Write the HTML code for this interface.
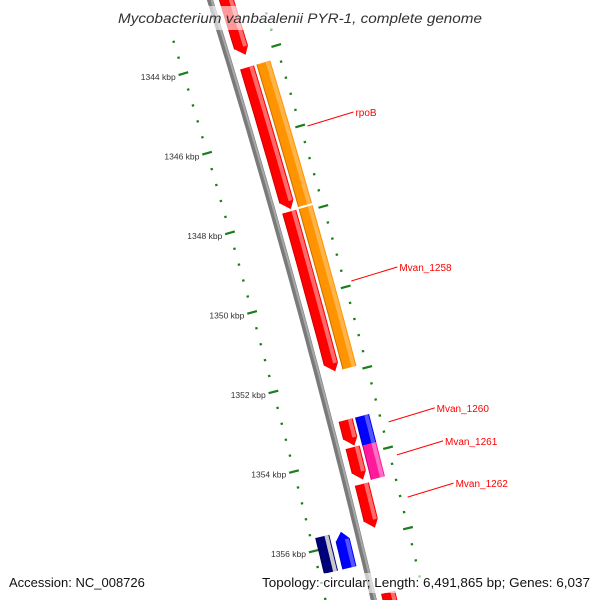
<!DOCTYPE html>
<html><head><meta charset="utf-8"><style>
html,body{margin:0;padding:0;background:#fff;overflow:hidden;}
svg{display:block;font-family:"Liberation Sans","DejaVu Sans",sans-serif;}
</style></head><body>
<svg id="map" width="600" height="600" viewBox="0 0 600 600" xmlns="http://www.w3.org/2000/svg">
<g id="back"></g>
<g id="ticks"></g>
<g id="feats"></g>
<g id="labels"></g>
<rect x="110" y="6" width="380" height="24" fill="#fff" opacity="0.6"/>
<text x="118" y="23" textLength="364" lengthAdjust="spacingAndGlyphs" font-size="14" font-style="italic" fill="#333">Mycobacterium vanbaalenii PYR-1, complete genome</text>
<rect x="5" y="573" width="142" height="20" fill="#fff" opacity="0.6"/>
<text x="9" y="587" font-size="13" fill="#111">Accession: NC_008726</text>
<rect x="257" y="573" width="338" height="20" fill="#fff" opacity="0.6"/>
<text x="262" y="587" textLength="328" lengthAdjust="spacingAndGlyphs" font-size="13" fill="#111">Topology: circular; Length: 6,491,865 bp; Genes: 6,037</text>
</svg>
<script>
// data
const featStart = [1342.5, 1344.3, 1347.9, 1344.3, 1347.9, 1353.1, 1353.1, 1353.78, 1353.8, 1354.7, 1355.7, 1355.7, 1357.4];
const featEnd   = [1344.0, 1347.85, 1351.9, 1347.85, 1351.9, 1353.75, 1353.8, 1354.6, 1354.65, 1355.8, 1356.6, 1356.6, 1358.5];
const featLane  = [1, 1, 1, 2, 2, 1, 2, 1, 2, 1, -2, -1, 1];
const featArrow = [1, 1, 1, 0, 0, 1, 0, 1, 0, 1, 0, -1, 1];
const featColor = ["red","red","red","orange","orange","red","blue","red","pink","red","navy","blue","red"];
const geneNames = ["rpoB","Mvan_1258","Mvan_1260","Mvan_1261","Mvan_1262"];
const genePos   = [1346.05, 1349.9, 1353.4, 1354.22, 1355.27];
const tickMajorStart = 1343.2, tickMajorEnd = 1357.2, tickMinorStep = 0.4;

const NS="http://www.w3.org/2000/svg";
function yb(p){return 60+40*(p-1344);}
function fx(y){return 210+0.31*y-0.0000617*y*y;}
function fd(y){return 0.31-2*0.0000617*y;}
function pt(p,r){const y=yb(p),x=fx(y),s=fd(y),n=Math.sqrt(1+s*s);return [x+r/n, y-r*s/n];}
function mk(tag,attrs,parent){const e=document.createElementNS(NS,tag);for(const k in attrs)e.setAttribute(k,attrs[k]);parent.appendChild(e);return e;}
function pts(a){return a.map(q=>q[0].toFixed(1)+","+q[1].toFixed(1)).join(" ");}

// backbone
const back=document.getElementById('back');
let bp=[];for(let p=1342;p<=1358.6;p+=0.25)bp.push(pt(p,0));
const b1=mk('polyline',{points:pts(bp),fill:'none',stroke:'#7a7a7a','stroke-width':6},back);


const b2=mk('polyline',{points:pts(bp.map(q=>[q[0]+1.5,q[1]])),fill:'none',stroke:'#a8a8a8','stroke-width':2},back);



// ticks
const tg=document.getElementById('ticks');
const rings=[-47,50];
for(const R of rings){
  for(let p=tickMajorStart;p<=tickMajorEnd+0.001;p+=tickMinorStep){
    const pr=Math.round(p*10)/10;
    const major=Math.abs(pr/2-Math.round(pr/2))<0.01;
    const h=major?5:1.2;
    const a=pt(pr,R-h),b=pt(pr,R+h);
    const l=mk('line',{x1:a[0],y1:a[1],x2:b[0],y2:b[1],stroke:'#1a7f1a','stroke-width':2.2},tg);
    
    
    if(major&&R<0){
      const c=pt(pr,R-8);
      const t=mk('text',{x:c[0],y:c[1]+4,'text-anchor':'end','font-size':8.5,fill:'#333'},tg);
      t.textContent=pr+' kbp';
      
      
    }
  }
}

// features
const pal={red:['#ff0000','#ff6a6a','#d00000'],orange:['#ff9400','#ffb44a','#c87000'],blue:['#0000ff','#5555ff','#0000b0'],pink:['#ff1a9c','#ff70c4','#cc0077'],navy:['#00007a','#c8c8c8','#000050']};
const lanes={1:[9,23],2:[26,40],'-1':[-23,-9],'-2':[-42,-28]};
const fg=document.getElementById('feats');
for(let i=0;i<featStart.length;i++){
  const [r0,r1]=lanes[featLane[i]];const s=featStart[i],e=featEnd[i],ar=featArrow[i];
  const head=0.2;const c=pal[featColor[i]];
  const poly=[];
  function edge(r,from,to){for(let k=0;k<=6;k++)poly.push(pt(from+(to-from)*k/6,r));}
  if(ar===1){edge(r0,s,e-head);poly.push(pt(e,(r0+r1)/2+2));edge(r1,e-head,s);}
  else if(ar===-1){edge(r0,e,s+head);poly.push(pt(s,(r0+r1)/2));edge(r1,s+head,e);}
  else{edge(r0,s,e);edge(r1,e,s);}
  const g=mk('g',{},fg);
  
  
  mk('polygon',{points:pts(poly),fill:c[0]},g);
  const hp=[];const hr0=r1-5,hr1=r1-1;
  const hs=ar===-1?s+head:s,he=ar===1?e-head:e;
  for(let k=0;k<=6;k++)hp.push(pt(hs+(he-hs)*k/6,hr0));
  for(let k=6;k>=0;k--)hp.push(pt(hs+(he-hs)*k/6,hr1));
  mk('polygon',{points:pts(hp),fill:c[1]},g);
  const dp=[];for(let k=0;k<=6;k++)dp.push(pt(hs+(he-hs)*k/6,r0));
  mk('polyline',{points:pts(dp),fill:'none',stroke:c[2],'stroke-width':1},g);
}

// labels
const lg=document.getElementById('labels');
for(let i=0;i<geneNames.length;i++){
  const a=pt(genePos[i],57);const b=[a[0]+46,a[1]-14];
  const l=mk('line',{x1:a[0],y1:a[1],x2:b[0],y2:b[1],stroke:'#ff0000','stroke-width':1},lg);
  
  
  const t=mk('text',{x:b[0]+2,y:b[1]+4,'font-size':10,fill:'#ff0000'},lg);
  t.textContent=geneNames[i];
  
  
}
</script>
</body></html>
